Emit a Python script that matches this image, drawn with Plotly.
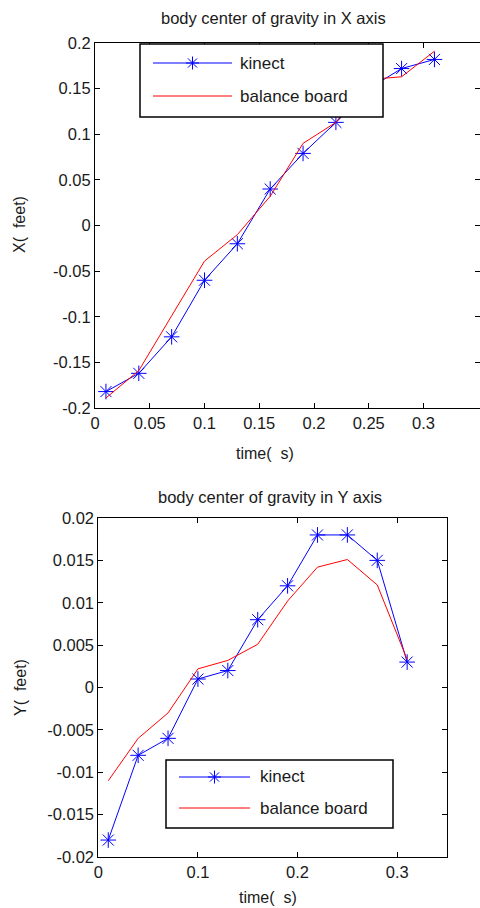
import plotly.graph_objects as go

# ---------------- data ----------------
time_s = [0.01, 0.04, 0.07, 0.10, 0.13, 0.16, 0.19, 0.22, 0.25, 0.28, 0.31]

x_kinect = [-0.182, -0.162, -0.122, -0.060, -0.020, 0.040, 0.079, 0.113, 0.150, 0.172, 0.182]
x_board = [-0.189, -0.159, -0.099, -0.039, -0.010, 0.032, 0.090, 0.113, 0.160, 0.163, 0.191]

y_kinect = [-0.018, -0.008, -0.006, 0.001, 0.002, 0.008, 0.012, 0.018, 0.018, 0.015, 0.003]
y_board = [-0.011, -0.006, -0.003, 0.0022, 0.0032, 0.0051, 0.0102, 0.0142, 0.0151, 0.0121, 0.0033]

top_xtick_vals = [0, 0.05, 0.1, 0.15, 0.2, 0.25, 0.3]
top_xtick_text = ["0", "0.05", "0.1", "0.15", "0.2", "0.25", "0.3"]
top_ytick_vals = [-0.2, -0.15, -0.1, -0.05, 0, 0.05, 0.1, 0.15, 0.2]
top_ytick_text = ["-0.2", "-0.15", "-0.1", "-0.05", "0", "0.05", "0.1", "0.15", "0.2"]
bot_xtick_vals = [0, 0.1, 0.2, 0.3]
bot_xtick_text = ["0", "0.1", "0.2", "0.3"]
bot_ytick_vals = [-0.02, -0.015, -0.01, -0.005, 0, 0.005, 0.01, 0.015, 0.02]
bot_ytick_text = ["-0.02", "-0.015", "-0.01", "-0.005", "0", "0.005", "0.01", "0.015", "0.02"]

series_names = ["kinect", "balance board"]
titles = ["body center of gravity in X axis", "body center of gravity in Y axis"]
xlabel = "time(\u00a0\u00a0s)"
ylabels = ["X(\u00a0\u00a0feet)", "Y(\u00a0\u00a0feet)"]

# ---------------- layout helpers ----------------
W, H = 480, 908
FONT = "Arial, Liberation Sans, Noto Sans CJK SC, sans-serif"
BLUE = "rgb(0,0,255)"
RED = "rgb(255,0,0)"


def px(x):
    return x / W


def py(y):
    return (H - y) / H


fig = go.Figure()

marker = dict(symbol="asterisk-open", size=13, color=BLUE, line=dict(color=BLUE, width=1))

fig.add_trace(go.Scatter(x=time_s, y=x_kinect, mode="lines+markers", name=series_names[0],
                         line=dict(color=BLUE, width=1), marker=marker,
                         xaxis="x", yaxis="y", showlegend=False))
fig.add_trace(go.Scatter(x=time_s, y=x_board, mode="lines", name=series_names[1],
                         line=dict(color=RED, width=1), xaxis="x", yaxis="y", showlegend=False))
fig.add_trace(go.Scatter(x=time_s, y=y_kinect, mode="lines+markers", name=series_names[0],
                         line=dict(color=BLUE, width=1), marker=marker,
                         xaxis="x2", yaxis="y2", showlegend=False))
fig.add_trace(go.Scatter(x=time_s, y=y_board, mode="lines", name=series_names[1],
                         line=dict(color=RED, width=1), xaxis="x2", yaxis="y2", showlegend=False))

axis_common = dict(showgrid=False, zeroline=False, showline=True, linecolor="black", linewidth=1,
                   ticks="inside", ticklen=5, tickcolor="black", mirror="allticks", automargin=False,
                   tickfont=dict(family=FONT, size=16.5, color="#1a1a1a"))

fig.update_layout(
    template="none",
    width=W, height=H,
    margin=dict(l=0, r=0, t=0, b=0, pad=0),
    paper_bgcolor="white", plot_bgcolor="white",
    font=dict(family=FONT, size=16, color="#1a1a1a"),
    xaxis=dict(domain=[px(95), 1.0], range=[0, 0.3516], tickvals=top_xtick_vals,
               ticktext=top_xtick_text, anchor="y", **axis_common),
    yaxis=dict(domain=[py(408), py(43)], range=[-0.2, 0.2], tickvals=top_ytick_vals,
               ticktext=top_ytick_text, anchor="x", **axis_common),
    xaxis2=dict(domain=[px(98.3), px(447)], range=[0, 0.35], tickvals=bot_xtick_vals,
                ticktext=bot_xtick_text, anchor="y2", **axis_common),
    yaxis2=dict(domain=[py(857), py(518)], range=[-0.02, 0.02], tickvals=bot_ytick_vals,
                ticktext=bot_ytick_text, anchor="x2", **axis_common),
)

annotations = []
shapes = []


def text(x, y, s, size=16, angle=0, xanchor="center"):
    annotations.append(dict(x=px(x), y=py(y), xref="paper", yref="paper", text=s, showarrow=False,
                            xanchor=xanchor, yanchor="middle", textangle=angle,
                            font=dict(family=FONT, size=size, color="#1a1a1a")))


# titles and axis labels
text(273, 18, titles[0], size=16.5)
text(265, 453, xlabel, size=16)
text(20, 225, ylabels[0], size=16, angle=-90)
text(270, 497, titles[1], size=16.5)
text(268, 897, xlabel, size=16)
text(20, 688, ylabels[1], size=16, angle=-90)


def legend(x0, y0, x1, y1, lx0, lx1, ly1, ly2, tx):
    shapes.append(dict(type="rect", xref="paper", yref="paper", x0=px(x0), x1=px(x1),
                       y0=py(y1), y1=py(y0), fillcolor="white", line=dict(color="black", width=1.5),
                       layer="above"))
    shapes.append(dict(type="line", xref="paper", yref="paper", x0=px(lx0), x1=px(lx1),
                       y0=py(ly1), y1=py(ly1), line=dict(color=BLUE, width=1), layer="above"))
    cx = (lx0 + lx1) / 2
    r = 6.5
    d = r * 0.707
    path = (f"M{px(cx - r)},{py(ly1)} L{px(cx + r)},{py(ly1)} "
            f"M{px(cx)},{py(ly1 - r)} L{px(cx)},{py(ly1 + r)} "
            f"M{px(cx - d)},{py(ly1 - d)} L{px(cx + d)},{py(ly1 + d)} "
            f"M{px(cx - d)},{py(ly1 + d)} L{px(cx + d)},{py(ly1 - d)}")
    shapes.append(dict(type="path", xref="paper", yref="paper", path=path,
                       line=dict(color=BLUE, width=1), layer="above"))
    shapes.append(dict(type="line", xref="paper", yref="paper", x0=px(lx0), x1=px(lx1),
                       y0=py(ly2), y1=py(ly2), line=dict(color=RED, width=1), layer="above"))
    text(tx, ly1, series_names[0], size=17, xanchor="left")
    text(tx, ly2, series_names[1], size=17, xanchor="left")


legend(140, 44, 383, 117, 153, 232, 63, 96, 238)
legend(166, 760, 393, 828, 179, 250, 777, 808, 258)

fig.update_layout(annotations=annotations, shapes=shapes)

fig.write_html("out.html", config={"displayModeBar": False},
               post_script="document.body.style.margin='0';document.body.style.overflow='hidden';")
